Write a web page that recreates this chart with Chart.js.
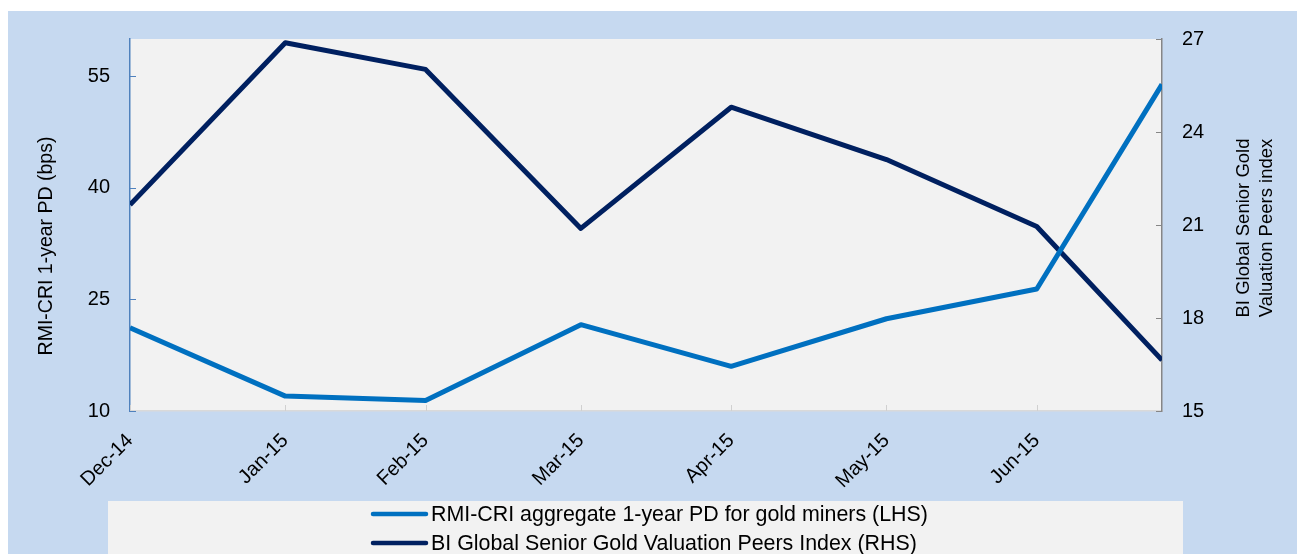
<!DOCTYPE html>
<html><head><meta charset="utf-8">
<script src="https://cdn.jsdelivr.net/npm/chart.js@4.4.1/dist/chart.umd.min.js"></script>
<style>html,body{margin:0;padding:0;background:#fff;overflow:hidden}#wrap{width:1297px;height:554px;position:relative}canvas{display:block}</style>
</head><body><div id="wrap"><canvas id="c" width="1297" height="554"></canvas></div>
<script>
// ---- data ----
const dates = ['2014-12-31','2015-01-31','2015-02-28','2015-03-31','2015-04-30','2015-05-31','2015-06-30','2015-07-25'];
const xTickLabels = ['Dec-14','Jan-15','Feb-15','Mar-15','Apr-15','May-15','Jun-15'];
const pdValues = [21.2, 12.0, 11.4, 21.6, 16.0, 22.4, 26.4, 53.9];
const goldIndex = [21.65, 26.88, 26.02, 20.89, 24.8, 23.11, 20.95, 16.64];
const leftTicks = [10, 25, 40, 55];
const rightTicks = [15, 18, 21, 24, 27];
const seriesNames = ['RMI-CRI aggregate 1-year PD for gold miners (LHS)', 'BI Global Senior Gold Valuation Peers Index (RHS)'];
const leftTitle = 'RMI-CRI 1-year PD (bps)';
const rightTitle = ['BI Global Senior Gold', 'Valuation Peers index'];

const DAY = 86400000;
const t0 = Date.parse(dates[0]);
const xs = dates.map(d => Math.round((Date.parse(d) - t0) / DAY));
const xTickVals = xs.slice(0, xTickLabels.length);

const FONT = "'Liberation Sans', Arial, sans-serif";
const BG = '#c6d9f0', PLOT = '#f2f2f2';
const LIGHT = '#0070c0', DARK = '#002060';

const deco = {
  id: 'deco',
  beforeDraw(chart) {
    const ctx = chart.ctx, a = chart.chartArea;
    ctx.save();
    ctx.fillStyle = '#fff'; ctx.fillRect(0, 0, chart.width, chart.height);
    ctx.fillStyle = BG; ctx.fillRect(8, 11, chart.width - 8, chart.height - 11);
    ctx.fillStyle = PLOT; ctx.fillRect(a.left, a.top, a.right - a.left, a.bottom - a.top);
    ctx.fillStyle = PLOT; ctx.fillRect(108, 501, 1183 - 108, chart.height - 501);
    ctx.restore();
  },
  afterDraw(chart) {
    const ctx = chart.ctx, a = chart.chartArea, s = chart.scales;
    ctx.save();
    ctx.lineWidth = 1;
    ctx.strokeStyle = '#4f81bd';
    s.y.ticks.forEach(t => { const y = Math.round(s.y.getPixelForValue(t.value)) + 0.5; ctx.beginPath(); ctx.moveTo(a.left, y); ctx.lineTo(a.left + 6, y); ctx.stroke(); });
    ctx.strokeStyle = '#868686';
    s.y2.ticks.forEach(t => { const y = Math.round(s.y2.getPixelForValue(t.value)) + 0.5; ctx.beginPath(); ctx.moveTo(a.right - 6, y); ctx.lineTo(a.right, y); ctx.stroke(); });
    ctx.strokeStyle = '#d0d0d0';
    s.x.ticks.forEach(t => { const x = Math.round(s.x.getPixelForValue(t.value)) + 0.5; ctx.beginPath(); ctx.moveTo(x, a.bottom); ctx.lineTo(x, a.bottom - 6); ctx.stroke(); });
    ctx.fillStyle = '#000';
    ctx.textAlign = 'center'; ctx.textBaseline = 'middle';
    ctx.font = '19.5px ' + FONT;
    ctx.save(); ctx.translate(47, 246); ctx.rotate(-Math.PI / 2); ctx.fillText(leftTitle, 0, 0); ctx.restore();
    ctx.font = '18.5px ' + FONT;
    rightTitle.forEach((txt, i) => {
      ctx.save(); ctx.translate(1244 + i * 23, 228); ctx.rotate(-Math.PI / 2); ctx.fillText(txt, 0, 0); ctx.restore();
    });
    chart.data.datasets.forEach((ds, i) => {
      const y = 514 + i * 29;
      ctx.strokeStyle = ds.borderColor; ctx.lineWidth = 4.5; ctx.lineCap = 'round';
      ctx.beginPath(); ctx.moveTo(373, y); ctx.lineTo(426, y); ctx.stroke();
      ctx.fillStyle = '#000'; ctx.textAlign = 'left'; ctx.textBaseline = 'middle';
      ctx.font = '21.4px ' + FONT;
      ctx.fillText(ds.label, 431, y + 1);
    });
    ctx.restore();
  }
};

new Chart(document.getElementById('c'), {
  type: 'line',
  data: {
    datasets: [
      { label: seriesNames[0], data: xs.map((x, i) => ({ x, y: pdValues[i] })), yAxisID: 'y', borderColor: LIGHT, borderWidth: 5, pointRadius: 0, borderJoinStyle: 'round', tension: 0 },
      { label: seriesNames[1], data: xs.map((x, i) => ({ x, y: goldIndex[i] })), yAxisID: 'y2', borderColor: DARK, borderWidth: 5, pointRadius: 0, borderJoinStyle: 'round', tension: 0 }
    ]
  },
  options: {
    responsive: false, animation: false, devicePixelRatio: 1,
    layout: { padding: { left: 8, top: 39, right: 0, bottom: 0 } },
    plugins: { legend: { display: false }, tooltip: { enabled: false } },
    scales: {
      x: {
        type: 'linear', min: xs[0], max: xs[xs.length - 1],
        afterBuildTicks: sc => { sc.ticks = xTickVals.map(v => ({ value: v })); },
        afterFit: sc => { sc.height = 143; },
        grid: { display: false, drawTicks: false },
        border: { display: true, color: '#d9d9d9', width: 1.5 },
        ticks: { autoSkip: false, maxRotation: 45, minRotation: 45, padding: 18, color: '#000', font: { family: FONT, size: 20 },
          callback: (v, i) => xTickLabels[i] }
      },
      y: {
        position: 'left', min: 10, max: 60,
        afterBuildTicks: sc => { sc.ticks = leftTicks.map(v => ({ value: v })); },
        afterFit: sc => { sc.width = 122; },
        grid: { display: false, drawTicks: false },
        border: { display: true, color: '#4f81bd', width: 1.5 },
        ticks: { padding: 20, color: '#000', font: { family: FONT, size: 20 } }
      },
      y2: {
        position: 'right', min: 15, max: 27,
        afterBuildTicks: sc => { sc.ticks = rightTicks.map(v => ({ value: v })); },
        afterFit: sc => { sc.width = 135; },
        grid: { display: false, drawTicks: false },
        border: { display: true, color: '#868686', width: 1.5 },
        ticks: { padding: 20, color: '#000', font: { family: FONT, size: 20 } }
      }
    }
  },
  plugins: [deco]
});
</script>
</body></html>
